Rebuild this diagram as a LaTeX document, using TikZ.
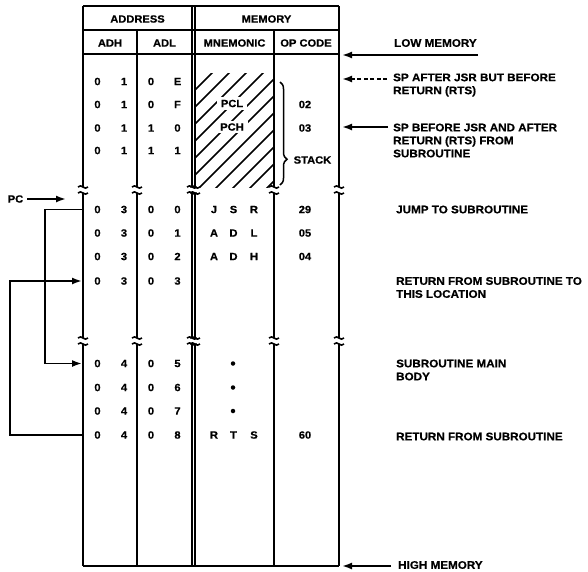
\documentclass[tikz,border=0pt]{standalone}
\usepackage{fontspec}
\setmainfont{Liberation Sans}[FakeStretch=1.06, BoldFeatures={FakeBold=0.6}]
\usetikzlibrary{arrows.meta, positioning, decorations.pathreplacing}

\begin{document}
\begin{tikzpicture}[
    x=1pt, y=-1pt,
    >={Latex[length=10pt,width=7pt]},
    rule/.style={line width=1.6pt},
    hatch/.style={line width=1.5pt},
    hdr/.style={font=\fontsize{10.5}{13}\selectfont\bfseries, inner sep=1pt},
    cell/.style={font=\fontsize{10.5}{12}\selectfont\bfseries, inner sep=1pt},
    lbl/.style={font=\fontsize{11}{13}\selectfont\bfseries, anchor=west, align=left, inner sep=1pt},
    conn/.style={->, line width=1.8pt},
    dconn/.style={conn, dash pattern=on 4pt off 2.5pt},
    brc/.style={decorate, decoration={brace, amplitude=7pt, aspect=0.75}, line width=1.5pt},
    dotc/.style={circle, fill, inner sep=0pt, minimum size=4.5pt},
    brk/.pic={\draw[rule] (-5,0) .. controls (-1.5,-4) and (1.5,4) .. (5,0);}
]
\useasboundingbox (0,0) rectangle (588,571);

% -------- Column / row positions --------
\def\xL{83}      % left edge
\def\xA{137}     % ADH | ADL
\def\xDa{192}    % double rule
\def\xDb{195}
\def\xM{274}     % MNEMONIC | OP CODE
\def\xR{339}     % right edge

\def\yTop{6}
\def\yHa{30}
\def\yHb{54}
\def\yBot{566}

% break marks
\def\bAa{187}
\def\bAb{193}
\def\bBa{338}
\def\bBb{344}

% -------- Table frame --------
\draw[rule] (\xL,\yTop) -- (\xR,\yTop);
\draw[rule] (\xL,\yHa) -- (\xR,\yHa);
\draw[rule] (\xL,\yHb) -- (\xR,\yHb);
\draw[rule] (\xL,\yBot) -- (\xR,\yBot);

\foreach \x/\ys in {\xL/\yTop,\xA/\yHa,\xDa/\yTop,\xDb/\yTop,\xM/\yHa,\xR/\yTop} {
    \draw[rule] (\x,\ys) -- (\x,\bAa);
    \draw[rule] (\x,\bAb) -- (\x,\bBa);
    \draw[rule] (\x,\bBb) -- (\x,\yBot);
    \foreach \yb in {\bAa,\bAb,\bBa,\bBb}
        \pic at (\x,\yb) {brk};
}

% -------- Headers --------
\node[hdr] (addr) at (137.5,19) {ADDRESS};
\node[hdr] (mem) at (266.5,19) {MEMORY};
\node[hdr] (adh) at (110,43) {ADH};
\node[hdr] (adl) at (164.5,43) {ADL};
\node[hdr] (mnem) at (234.5,43) {MNEMONIC};
\node[hdr] (opc) at (306,43) {OP CODE};

% -------- Stack area (hatched) --------
\begin{scope}
    \clip (\xDb,73) rectangle (\xM,\bAa);
    \foreach \k in {0,...,12}
        \draw[hatch] (76+\k*17,192) -- ++(125,-125);
\end{scope}
\node[cell, fill=white, inner xsep=4pt, inner ysep=2.5pt] (pcl) at (232,103.5) {PCL};
\node[cell, fill=white, inner xsep=4pt, inner ysep=2.5pt] (pch) at (232,127) {PCH};
\node[cell] (stk) at (312.5,160) {STACK};
\draw[brc] (280,82) -- (280,185);

% -------- Addresses --------
\foreach \y/\a/\b/\c/\d [count=\i] in {81.5/0/1/0/E, 104.5/0/1/0/F, 128/0/1/1/0, 150.5/0/1/1/1,
        209.5/0/3/0/0, 233/0/3/0/1, 256.5/0/3/0/2, 281/0/3/0/3,
        363.5/0/4/0/5, 387.5/0/4/0/6, 411/0/4/0/7, 435/0/4/0/8} {
    \node[cell] (ha\i) at (97.5,\y) {\a};
    \node[cell] (hb\i) at (124,\y) {\b};
    \node[cell] (la\i) at (151,\y) {\c};
    \node[cell] (lb\i) at (177.5,\y) {\d};
}

% -------- Mnemonics and op codes --------
\foreach \i/\p/\q/\r in {5/J/S/R, 6/A/D/L, 7/A/D/H, 12/R/T/S} {
    \node[cell] (mp\i) at (214,0 |- ha\i) {\p};
    \node[cell] (mq\i) at (233.5,0 |- ha\i) {\q};
    \node[cell] (mr\i) at (254,0 |- ha\i) {\r};
}
\foreach \i in {9,10,11}
    \node[dotc] (dt\i) at (233,0 |- ha\i) {};
\foreach \i/\v in {2/02, 3/03, 5/29, 6/05, 7/04, 12/60}
    \node[cell] (op\i) at (305,0 |- ha\i) {\v};

% -------- Right labels --------
\node[lbl] (lowm) at (393,43) {LOW MEMORY};
\node[lbl] (spa) at (392,85) {SP AFTER JSR BUT BEFORE\\RETURN (RTS)};
\node[lbl] (spb) at (392,140.5) {SP BEFORE JSR AND AFTER\\RETURN (RTS) FROM\\SUBROUTINE};
\node[lbl] (jmp) at (395,209.5) {JUMP TO SUBROUTINE};
\node[lbl] (rtn) at (395,287.5) {RETURN FROM SUBROUTINE TO\\THIS LOCATION};
\node[lbl] (body) at (395,370) {SUBROUTINE MAIN\\BODY};
\node[lbl] (rts) at (395,436.5) {RETURN FROM SUBROUTINE};
\node[lbl] (highm) at (397,565) {HIGH MEMORY};

% -------- Right arrows --------
\coordinate (lowtail) at (478,55);
\coordinate (lowtip) at (\xR+3,55);
\coordinate (spatail) at (387,79);
\coordinate (spatip) at (\xR+3,79);
\coordinate (spbtail) at (388,127);
\coordinate (spbtip) at (\xR+3,127);
\coordinate (hightail) at (391,566);
\coordinate (hightip) at (\xR+3,566);

\draw[conn] (lowtail) -- (lowtip);
\draw[dconn] (spatail) -- (spatip);
\draw[conn] (spbtail) -- (spbtip);
\draw[conn] (hightail) -- (hightip);

% -------- PC and jump / return loops --------
\node[hdr] (pc) at (15.5,199) {PC};
\coordinate (pctip) at (66,199);
\draw[conn] ([xshift=3pt]pc.east) -- (pctip);

\coordinate (jsrout) at (\xL,0 |- ha5);
\coordinate (subin) at (\xL-1,0 |- ha9);
\coordinate (rtsout) at (\xL,0 |- ha12);
\coordinate (retin) at (\xL-1,0 |- ha8);

\draw[conn] (jsrout) -- ++(-38,0) |- (subin);
\draw[conn] (rtsout) -- ++(-73,0) |- (retin);

\end{tikzpicture}
\end{document}
